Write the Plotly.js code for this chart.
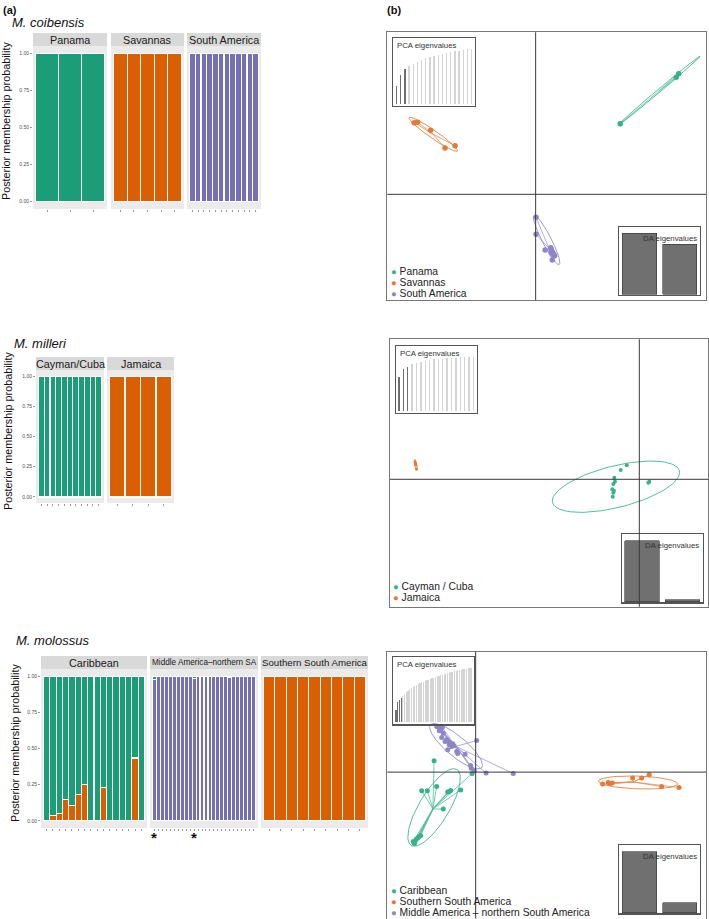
<!DOCTYPE html>
<html><head><meta charset="utf-8">
<script src="https://cdn.plot.ly/plotly-3.0.1.min.js"></script>
<style>html,body{margin:0;padding:0;background:#fff}</style>
</head><body><div id="chart" style="width:709px;height:919px"></div>
<script>
// ================= DATA =================
// (a) posterior membership probabilities (one value per individual)
const coibStrips = ['Panama', 'Savannas', 'South America'];
const coibPanama = [1, 1, 1];
const coibSavannas = [1, 1, 1, 1, 1];
const coibSouthAmerica = [1, 1, 1, 1, 1, 1, 1, 1, 1, 1, 1, 1];

const millStrips = ['Cayman/Cuba', 'Jamaica'];
const millCayman = [1, 1, 1, 1, 1, 1, 1, 1, 1, 1, 1];
const millJamaica = [1, 1, 1, 1];

const molStrips = ['Caribbean', 'Middle America\u2013northern SA', 'Southern South America'];
const molCaribbeanOrange = [0, 0.034, 0.053, 0.15, 0.108, 0.18, 0.25, 0, 0, 0.23, 0, 0, 0, 0, 0.434, 0];
const molCaribbeanGreen  = [1, 0.966, 0.947, 0.85, 0.892, 0.82, 0.75, 1, 1, 0.77, 1, 1, 1, 1, 0.566, 1];
const molMiddlePurple = [0.98, 1, 1, 1, 1, 1, 1, 1, 1, 1, 0.985, 1, 1, 1, 1, 1, 1, 1, 1, 0.99, 1, 1, 1, 1, 1, 1];
const molMiddleGreen  = [0.02, 0, 0, 0, 0, 0, 0, 0, 0, 0, 0.015, 0, 0, 0, 0, 0, 0, 0, 0, 0.01, 0, 0, 0, 0, 0, 0];
const molSouthern = [1, 1, 1, 1, 1, 1, 1, 1, 1];
const molStarred = [1, 11];   // individuals marked with * (Middle America)

const yTickVals = [0, 0.25, 0.5, 0.75, 1];
const yTickText = ['0.00', '0.25', '0.50', '0.75', '1.00'];

// (b) DAPC scatter: discriminant function scores
const coibPanamaLD1 = [4.23, 7.03, 7.15];
const coibPanamaLD2 = [3.53, 5.85, 6.03];
const coibSavannasLD1 = [-6.07, -5.90, -5.25, -4.53, -4.03];
const coibSavannasLD2 = [3.58, 3.60, 3.20, 2.32, 2.43];
const coibSouthAmLD1 = [0.02, 0.02, 0.47, 0.75, 0.77, 0.80, 0.88, 0.95, 0.83, 0.85, 0.90, 0.78];
const coibSouthAmLD2 = [-1.15, -2.00, -2.78, -2.67, -2.87, -2.95, -3.03, -3.07, -3.28, -2.90, -3.00, -2.75];
// ellipses: [centre LD1, centre LD2, semi-major, semi-minor, angle deg]
const coibPanamaEll = [6.17, 5.18, 2.67, 0.08, 40];
const coibSavannasEll = [-5.12, 3.0, 1.47, 0.2, -34.8];
const coibSouthAmEll = [0.55, -2.28, 1.38, 0.23, -63];
const coibLegend = ['Panama', 'Savannas', 'South America'];

const millCaymanLD1 = [-0.63, -0.93, -1.25, -1.22, -1.30, 0.50, 0.45, -1.35, -1.27, -1.30, -1.33];
const millCaymanLD2 = [0.70, 0.47, 0.08, -0.12, -0.23, -0.12, -0.17, -0.50, -0.57, -0.67, -0.87];
const millJamaicaLD1 = [-11.22, -11.18, -11.15, -11.20];
const millJamaicaLD2 = [0.88, 0.72, 0.52, 0.80];
const millCaymanEll = [-1.17, -0.37, 3.27, 1.04, 14];
const millJamaicaEll = [-11.18, 0.72, 0.28, 0.05, -80];
const millLegend = ['Cayman / Cuba', 'Jamaica'];

const molCaribLD1 = [-2.08, -2.70, -2.42, -1.95, -1.40, -1.32, -1.25, -0.75, -1.62, -0.18, -3.12, -3.05, -2.98, -2.90, -2.82, -2.75, -3.07];
const molCaribLD2 = [0.57, -0.93, -0.93, -0.72, -1.00, -0.97, -0.92, -0.90, -1.85, -0.07, -3.47, -3.52, -3.38, -3.30, -3.23, -3.18, -3.58];
const molMiddleLD1 = [-1.95, -1.83, -1.73, -1.67, -1.82, -1.62, -1.70, -1.45, -1.37, -1.28, -1.23, -1.15, -1.08, -1.40, -0.95, -0.90, -0.53, -0.25, -0.22, 0.05, 0.52, 1.88, -0.07, -1.20, -1.53, -1.32];
const molMiddleLD2 = [2.28, 2.20, 2.15, 2.23, 2.07, 1.95, 1.73, 1.63, 1.53, 1.45, 1.37, 1.42, 1.32, 1.12, 1.03, 0.93, 0.90, 0.33, 0.20, 1.58, -0.05, -0.07, 0.07, 1.28, 1.53, 1.37];
const molSouthLD1 = [6.35, 6.63, 6.72, 6.83, 7.85, 8.30, 8.68, 9.30, 10.17];
const molSouthLD2 = [-0.60, -0.52, -0.57, -0.55, -0.30, -0.30, -0.13, -0.72, -0.77];
const molCaribEll = [-2.08, -1.77, 2.22, 0.75, 59];
const molMiddleEll = [-0.98, 1.30, 1.67, 0.50, -40];
const molSouthEll = [8.12, -0.52, 1.98, 0.32, -2];
const molLegend = ['Caribbean', 'Southern South America', 'Middle America \u2013 northern South America'];

// inset eigenvalues
const coibPCAeig = [53, 85, 103, 113, 120, 126, 131, 136, 140, 143, 146, 149, 152, 155, 157, 159, 161, 163, 164];
const coibPCAkept = 3;
const millPCAeig = [102, 124, 132, 140, 144, 147, 150, 152, 154, 155, 156, 157, 158, 159, 160, 161, 162, 162];
const millPCAkept = 3;
const molPCAeig = [35, 60, 66, 72, 78, 84, 89, 93, 97, 101, 104, 107, 110, 113, 116, 118, 120, 122, 124, 126, 128, 130, 132, 134, 136, 138, 140, 141, 143, 144, 146, 147, 149, 150, 151, 153, 154, 155, 156, 157, 158, 159, 160, 161, 162];
const molPCAkept = 4;
const coibDAeig = [183, 150];
const millDAeig = [183, 5];
const molDAeig = [183, 30];

// ================= STYLE / LAYOUT =================
const W = 709, H = 919;
const px = a => a / W, py = b => 1 - b / H;
const GREEN = '#1b9e77', ORANGE = '#d95f02', PURPLE = '#7570b3';
const SG = '#35b28b', SO = '#e27a38', SP = '#8d86c8';
const FONT = 'Liberation Sans, Arial, sans-serif';

const layout = {
  width: W, height: H, margin: {l: 0, r: 0, t: 0, b: 0},
  paper_bgcolor: '#fff', plot_bgcolor: 'rgba(0,0,0,0)',
  showlegend: false, barmode: 'stack', bargap: 0,
  font: {family: FONT, color: '#222'},
  shapes: [], annotations: []
};
const traces = [];
const idx = n => Array.from({length: n}, (_, k) => k + 1);

function ann(o) { layout.annotations.push(Object.assign({showarrow: false, font: {family: FONT, size: 10, color: '#222'}}, o)); }

// ---- (a) ggplot style facets ----
function facet(i, xpx, ypx, strip, label, lsize, series, showY) {
  const n = series[0].v.length;
  const wpx = xpx[1] - xpx[0];
  const m = 2.5 * n / (wpx - 5);
  layout['xaxis' + i] = {domain: [px(xpx[0]), px(xpx[1])], anchor: 'y' + i, range: [0.5 - m, n + 0.5 + m],
    tickvals: idx(n), ticktext: idx(n).map(() => ''), ticks: 'outside', ticklen: 2, tickwidth: 0.6, tickcolor: '#555',
    showgrid: false, zeroline: false, showline: false, fixedrange: true};
  layout['yaxis' + i] = {domain: [py(ypx[1]), py(ypx[0])], anchor: 'x' + i, range: [-0.05, 1.05],
    tickvals: yTickVals, ticktext: yTickText, showticklabels: showY, ticks: showY ? 'outside' : '', ticklen: 2, tickwidth: 0.6, tickcolor: '#555',
    tickfont: {family: FONT, size: 5, color: '#4d4d4d'}, showgrid: false, zeroline: false, showline: false, fixedrange: true};
  layout.shapes.push({type: 'rect', xref: 'x' + i + ' domain', yref: 'y' + i + ' domain', x0: 0, x1: 1, y0: 0, y1: 1,
    fillcolor: '#ebebeb', line: {width: 0}, layer: 'below'});
  layout.shapes.push({type: 'rect', xref: 'x' + i + ' domain', yref: 'paper', x0: 0, x1: 1, y0: py(strip[1]), y1: py(strip[0]),
    fillcolor: '#d9d9d9', line: {width: 0}, layer: 'below'});
  ann({xref: 'x' + i + ' domain', yref: 'paper', x: 0.5, y: py((strip[0] + strip[1]) / 2), xanchor: 'center', yanchor: 'middle',
    text: label, font: {family: FONT, size: lsize, color: '#1a1a1a'}});
  series.forEach(s => traces.push({type: 'bar', x: idx(n), y: s.v, xaxis: 'x' + i, yaxis: 'y' + i,
    marker: {color: s.c, line: {color: '#ffffff', width: 1.1}}, hoverinfo: 'skip'}));
}

facet(1, [33, 107], [46, 209], [33, 46], coibStrips[0], 10.8, [{v: coibPanama, c: GREEN}], true);
facet(2, [111, 184], [46, 209], [33, 46], coibStrips[1], 10.8, [{v: coibSavannas, c: ORANGE}], false);
facet(3, [187, 261], [46, 209], [33, 46], coibStrips[2], 10.8, [{v: coibSouthAmerica, c: PURPLE}], false);

facet(4, [36, 104], [370, 503], [357, 370], millStrips[0], 10.8, [{v: millCayman, c: GREEN}], true);
facet(5, [107, 174], [370, 503], [357, 370], millStrips[1], 10.8, [{v: millJamaica, c: ORANGE}], false);

facet(6, [41, 147], [669, 828], [656, 669], molStrips[0], 10.8, [{v: molCaribbeanOrange, c: ORANGE}, {v: molCaribbeanGreen, c: GREEN}], true);
facet(7, [150, 258], [669, 828], [656, 669], molStrips[1], 8.2, [{v: molMiddlePurple, c: PURPLE}, {v: molMiddleGreen, c: GREEN}], false);
facet(8, [261, 368], [669, 828], [656, 669], molStrips[2], 9.7, [{v: molSouthern, c: ORANGE}], false);

molStarred.forEach(s => ann({xref: 'x7', yref: 'paper', x: s, y: py(837.5), xanchor: 'center', yanchor: 'middle', text: '<b>*</b>', font: {family: FONT, size: 15, color: '#111'}}));

// titles of (a)
ann({xref: 'paper', yref: 'paper', x: px(1), y: py(10), xanchor: 'left', yanchor: 'middle', text: '<b>(a)</b>', font: {family: FONT, size: 11, color: '#111'}});
ann({xref: 'paper', yref: 'paper', x: px(385), y: py(10), xanchor: 'left', yanchor: 'middle', text: '<b>(b)</b>', font: {family: FONT, size: 11, color: '#111'}});
ann({xref: 'paper', yref: 'paper', x: px(10), y: py(23), xanchor: 'left', yanchor: 'middle', text: '<i>M. coibensis</i>', font: {family: FONT, size: 13, color: '#111'}});
ann({xref: 'paper', yref: 'paper', x: px(12), y: py(343), xanchor: 'left', yanchor: 'middle', text: '<i>M. milleri</i>', font: {family: FONT, size: 13, color: '#111'}});
ann({xref: 'paper', yref: 'paper', x: px(14), y: py(640), xanchor: 'left', yanchor: 'middle', text: '<i>M. molossus</i>', font: {family: FONT, size: 13, color: '#111'}});
[[6, 121], [8, 431], [15, 743]].forEach(p => ann({xref: 'paper', yref: 'paper', x: px(p[0]), y: py(p[1]), xanchor: 'center', yanchor: 'middle', textangle: -90,
  text: 'Posterior membership probability', font: {family: FONT, size: 10.8, color: '#111'}}));

// ---- (b) DAPC scatter panels ----
function boxAxes(i, xpx, ypx, xr, yr, lc, lw) {
  const base = {showline: true, mirror: true, linecolor: lc, linewidth: lw, showgrid: false, zeroline: false, showticklabels: false, ticks: '', fixedrange: true};
  layout['xaxis' + i] = Object.assign({domain: [px(xpx[0]), px(xpx[1])], anchor: 'y' + i, range: xr}, base);
  layout['yaxis' + i] = Object.assign({domain: [py(ypx[1]), py(ypx[0])], anchor: 'x' + i, range: yr}, base);
}
function crosshair(i) {
  layout.shapes.push({type: 'line', xref: 'x' + i, yref: 'y' + i + ' domain', x0: 0, x1: 0, y0: 0, y1: 1, line: {color: '#3a3a3a', width: 1}, layer: 'above'});
  layout.shapes.push({type: 'line', xref: 'x' + i + ' domain', yref: 'y' + i, x0: 0, x1: 1, y0: 0, y1: 0, line: {color: '#3a3a3a', width: 1}, layer: 'above'});
}
function ellipse(p) {
  const [cx, cy, a, b, ang] = p; const t = ang * Math.PI / 180; const xs = [], ys = [];
  for (let k = 0; k <= 90; k++) { const u = k / 90 * 2 * Math.PI;
    xs.push(cx + a * Math.cos(u) * Math.cos(t) - b * Math.sin(u) * Math.sin(t));
    ys.push(cy + a * Math.cos(u) * Math.sin(t) + b * Math.sin(u) * Math.cos(t)); }
  return {xs, ys};
}
function group(i, xs, ys, ell, col, msize, star) {
  const e = ellipse(ell);
  traces.push({type: 'scatter', mode: 'lines', x: e.xs, y: e.ys, xaxis: 'x' + i, yaxis: 'y' + i, line: {color: col, width: 1}, opacity: 0.85, hoverinfo: 'skip'});
  if (star) {
    const mx = xs.reduce((s, v) => s + v, 0) / xs.length, my = ys.reduce((s, v) => s + v, 0) / ys.length;
    const sx = [], sy = [];
    xs.forEach((v, k) => { sx.push(mx, v, null); sy.push(my, ys[k], null); });
    traces.push({type: 'scatter', mode: 'lines', x: sx, y: sy, xaxis: 'x' + i, yaxis: 'y' + i, line: {color: col, width: 0.8}, opacity: 0.85, hoverinfo: 'skip'});
  }
  traces.push({type: 'scatter', mode: 'markers', x: xs, y: ys, xaxis: 'x' + i, yaxis: 'y' + i, marker: {color: col, size: msize}, hoverinfo: 'skip'});
}
function pcaInset(i, xpx, ypx, xr, yr, vals, kept, bw) {
  boxAxes(i, xpx, ypx, xr, yr, '#555', 1.2);
  traces.push({type: 'bar', x: idx(vals.length), y: vals, width: bw, xaxis: 'x' + i, yaxis: 'y' + i,
    marker: {color: vals.map((v, k) => k < kept ? '#6e6e6e' : '#d4d4d4'), line: {width: 0}}, hoverinfo: 'skip'});
  ann({xref: 'x' + i + ' domain', yref: 'y' + i + ' domain', x: 0.025, y: 0.985, xanchor: 'left', yanchor: 'top', text: 'PCA eigenvalues', font: {family: FONT, size: 7.8, color: '#333'}});
}
function daInset(i, xpx, ypx, yr, vals) {
  boxAxes(i, xpx, ypx, [0.5, 2.5], yr, '#555', 1.2);
  traces.push({type: 'bar', x: idx(vals.length), y: vals, width: 0.85, xaxis: 'x' + i, yaxis: 'y' + i,
    marker: {color: '#707070', line: {color: '#333', width: 0.6}}, hoverinfo: 'skip'});
  ann({xref: 'x' + i + ' domain', yref: 'y' + i + ' domain', x: 0.985, y: 0.93, xanchor: 'right', yanchor: 'top', text: 'DA eigenvalues', font: {family: FONT, size: 7.8, color: '#333'}});
}
function legend(items, x0, ys) {
  items.forEach((it, k) => ann({xref: 'paper', yref: 'paper', x: px(x0), y: py(ys[k]), xanchor: 'left', yanchor: 'middle',
    text: '<span style="color:' + it.c + ';font-size:9.5px">\u25CF</span> ' + it.t, font: {family: FONT, size: 10.3, color: '#222'}}));
}

// b1 : M. coibensis
boxAxes(9, [387.3, 706], [32.3, 300], [-7.417, 8.517], [-5.283, 8.1], '#777', 1);
group(9, coibPanamaLD1, coibPanamaLD2, coibPanamaEll, SG, 5.5, true);
group(9, coibSavannasLD1, coibSavannasLD2, coibSavannasEll, SO, 5.5, true);
group(9, coibSouthAmLD1, coibSouthAmLD2, coibSouthAmEll, SP, 5.5, true);
crosshair(9);
pcaInset(10, [393.3, 475], [38.3, 105.7], [0.2, 19.8], [-6, 196], coibPCAeig, coibPCAkept, 0.32);
daInset(11, [619.3, 700], [227.3, 295], [-2, 201], coibDAeig);
legend([{c: SG, t: coibLegend[0]}, {c: SO, t: coibLegend[1]}, {c: SP, t: coibLegend[2]}], 388.5, [271.7, 282.7, 293.7]);

// b2 : M. milleri
boxAxes(12, [390, 708.3], [339.3, 606.7], [-12.47, 3.45], [-6.37, 7.0], '#777', 1);
group(12, millCaymanLD1, millCaymanLD2, millCaymanEll, SG, 4, false);
group(12, millJamaicaLD1, millJamaicaLD2, millJamaicaEll, SO, 3, false);
crosshair(12);
pcaInset(13, [396, 476.7], [345.7, 412.7], [0.31, 18.76], [-6, 195], millPCAeig, millPCAkept, 0.3);
daInset(14, [621.7, 702.7], [534.3, 602.3], [-2, 202], millDAeig);
legend([{c: SG, t: millLegend[0]}, {c: SO, t: millLegend[1]}], 390.5, [586, 597.7]);

// b3 : M. molossus
boxAxes(15, [387.3, 706], [651.7, 918.5], [-4.42, 11.52], [-7.33, 6.03], '#777', 1);
group(15, molCaribLD1, molCaribLD2, molCaribEll, SG, 5, true);
group(15, molSouthLD1, molSouthLD2, molSouthEll, SO, 5, true);
group(15, molMiddleLD1, molMiddleLD2, molMiddleEll, SP, 5, true);
crosshair(15);
pcaInset(16, [393.3, 474], [656.7, 724.3], [-0.55, 46.36], [-8, 195], molPCAeig, molPCAkept, 0.7);
daInset(17, [619.3, 700], [845, 913.3], [-2, 203], molDAeig);
legend([{c: SG, t: molLegend[0]}, {c: SO, t: molLegend[1]}, {c: SP, t: molLegend[2]}], 388.5, [890, 901.3, 912.7]);

Plotly.newPlot('chart', traces, layout, {staticPlot: true, displayModeBar: false});
</script></body></html>
